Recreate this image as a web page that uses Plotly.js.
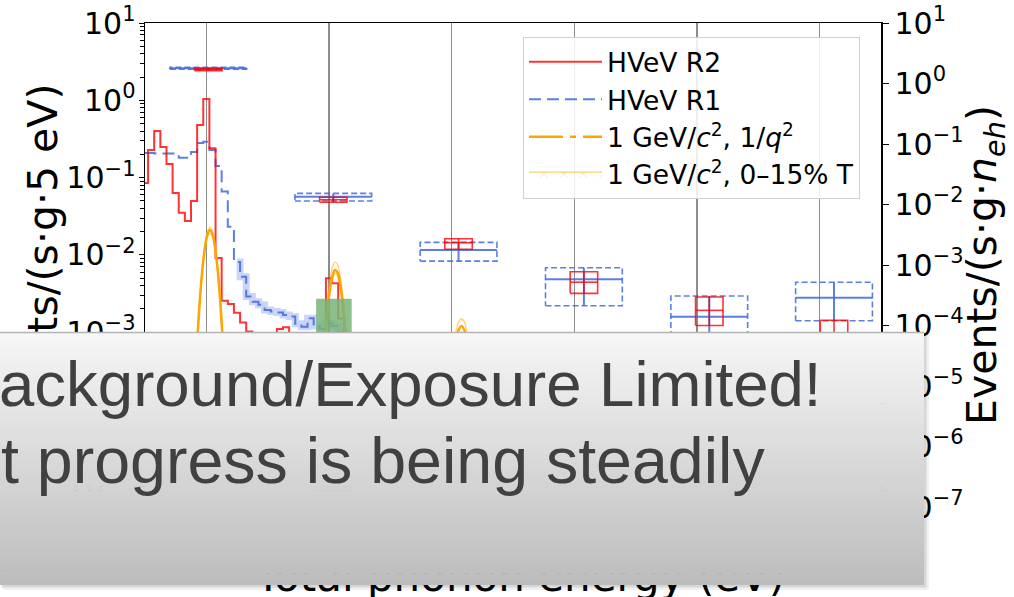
<!DOCTYPE html>
<html><head><meta charset="utf-8">
<script src="https://cdn.plot.ly/plotly-3.0.1.min.js"></script>
<style>html,body{margin:0;padding:0;background:#fff;}#chart{width:1014px;height:597px;}</style>
</head><body><div id="chart"></div>
<script>
// ---------------- data ----------------
const binCenters = [50,55,60,65,70,75,80,85,90,95,100,105,110,115,120,125,130,135,140,145,150,155,160,165,170,175,180,185,190,195,200,205,210,215];
const r2Rate = [0.085,0.227,0.40,0.249,0.15,0.063,0.035,0.0275,0.050,0.48,1.04,0.24,0.0091,0.00255,0.00232,0.00178,0.00134,0.00102,0.00085,0.0009,0.0007,0.00095,0.0011,0.00116,0.0008,0.0006,0.0005,0.0004,0.0005,0.0009,0.0050,0.0043,0.0015,0.0004];
const r1Rate = [0.208,0.208,0.205,0.205,0.205,0.205,0.18,0.18,0.215,0.28,0.29,0.227,0.141,0.066,0.0232,0.0081,0.0052,0.00289,0.00248,0.00226,0.00194,0.00185,0.0018,0.00167,0.0016,0.00129,0.00118,0.00152,0.0012,0.0011,0.0013,0.0012,0.0010,0.0008];

const qX = [91,93,95,97,99,101,103,105,107,109,111,113,115,null,195,197,199,201,203,205,207,209,211,213,215,null,302,304,306,308,310,312,314];
const qY = [0.0004,0.0010,0.0030,0.0070,0.0129,0.0186,0.021,0.0186,0.0129,0.0070,0.0030,0.0010,0.0004,null,0.0003,0.0009,0.0021,0.0038,0.0055,0.0064,0.0059,0.0043,0.0025,0.0012,0.0004,null,0.0005,0.0008,0.0011,0.0012,0.0011,0.0008,0.0005];

const bandX  = [[93,95,97,99,101,103,105,107,109,111,113],[195,197,199,201,203,205,207,209,211,213,215],[302,304,306,308,310,312,314]];
const bandHi = [[0.0012,0.0034,0.0078,0.0142,0.0203,0.023,0.0203,0.0142,0.0078,0.0034,0.0012],[0.0004,0.0012,0.0028,0.0050,0.0071,0.0081,0.0075,0.0055,0.0032,0.0015,0.0005],[0.0007,0.0011,0.0014,0.0015,0.0014,0.0011,0.0007]];
const bandLo = [[0.0009,0.0027,0.0063,0.0117,0.0169,0.019,0.0169,0.0117,0.0063,0.0027,0.0009],[0.00025,0.0008,0.0019,0.0034,0.0049,0.0057,0.0053,0.0038,0.0022,0.0011,0.00035],[0.0004,0.0007,0.0009,0.001,0.0009,0.0007,0.0004]];

const greenX = [189.5, 218.5];
const greenTop = 0.0027;

const nEh  = [1,2,3,4,5,6];
const boxE = [101.6,203.5,305.6,407.8,510,611.7];
const r1Mid = [1.78,0.01346,0.00177,5.8e-4,1.40e-4,2.88e-4];
const r1Lo  = [1.72,0.01143,0.00116,2.12e-4,5.5e-5,1.2e-4];
const r1Hi  = [1.85,0.0153,0.00237,9.0e-4,3.08e-4,5.18e-4];
const r2Mid = [1.70,0.0120,0.00234,5.2e-4,1.78e-4,7e-5];
const r2Lo  = [1.63,0.01087,0.00182,3.4e-4,1.0e-4,3e-5];
const r2Hi  = [1.78,0.01315,0.00272,7.75e-4,2.96e-4,1.22e-4];

const xTickVals = [100,200,300,400,500,600];
const xTickText = ['100','200','300','400','500','600'];
const leftTickVals = [1e-5,1e-4,1e-3,1e-2,1e-1,1,10];
const leftTickText = ['10<sup>−5</sup>','10<sup>−4</sup>','10<sup>−3</sup>','10<sup>−2</sup>','10<sup>−1</sup>','10<sup>0</sup>','10<sup>1</sup>'];
const rightTickVals = [1e-7,1e-6,1e-5,1e-4,1e-3,1e-2,1e-1,1,10];
const rightTickText = ['10<sup>−7</sup>','10<sup>−6</sup>','10<sup>−5</sup>','10<sup>−4</sup>','10<sup>−3</sup>','10<sup>−2</sup>','10<sup>−1</sup>','10<sup>0</sup>','10<sup>1</sup>'];

const xTitle = 'Total phonon energy (eV)';
const yTitleLeft = 'Events/(s·g·5 eV)';
const yTitleRight = 'Events/(s·g·<i>n</i><sub><i>eh</i></sub>)';
const legendNames = ['HVeV R2','HVeV R1','1 GeV/<i>c</i><sup>2</sup>, 1/<i>q</i><sup>2</sup>','1 GeV/<i>c</i><sup>2</sup>, 0–15% T'];
const overlayLines = ['ackground/Exposure Limited!','t progress is being steadily'];

// ---------------- geometry helpers ----------------
const W = 1014, H = 597;
const M = {l:145, r:133, t:23, b:90};
const PW = W - M.l - M.r, PH = H - M.t - M.b;
const fx = px => (px - M.l) / PW;
const fy = py => (M.t + PH - py) / PH;
const yRangeL = [-5.261, 1];
const yRangeR = [-7, 1];
const FONT = 'DejaVu Sans, Liberation Sans, sans-serif';

const BLUE = 'rgba(65,105,225,0.85)';
const RED = 'rgba(255,0,0,0.8)';

// ---------------- build paths ----------------
function rects(c, lo, hi, hw){
  const xs=[], ys=[];
  for(let i=0;i<c.length;i++){
    xs.push(c[i]-hw,c[i]+hw,c[i]+hw,c[i]-hw,c[i]-hw,null);
    ys.push(lo[i],lo[i],hi[i],hi[i],lo[i],null);
  }
  return {xs, ys};
}
function crosses(c, lo, mid, hi, hw){
  const xs=[], ys=[];
  for(let i=0;i<c.length;i++){
    xs.push(c[i]-hw,c[i]+hw,null,c[i],c[i],null);
    ys.push(mid[i],mid[i],null,lo[i],hi[i],null);
  }
  return {xs, ys};
}
const bandPX=[], bandPY=[];
for(let k=0;k<bandX.length;k++){
  const xs=bandX[k], hi=bandHi[k], lo=bandLo[k];
  for(let i=0;i<xs.length;i++){bandPX.push(xs[i]);bandPY.push(hi[i]);}
  for(let i=xs.length-1;i>=0;i--){bandPX.push(xs[i]);bandPY.push(lo[i]);}
  bandPX.push(xs[0]);bandPY.push(hi[0]);
  bandPX.push(null);bandPY.push(null);
}
const bandStart = binCenters.indexOf(125);

const B1 = rects(boxE, r1Lo, r1Hi, 31.3);
const B1c = crosses(boxE, r1Lo, r1Mid, r1Hi, 31.3);
const B2 = rects(boxE, r2Lo, r2Hi, 11.2);
const B2c = crosses(boxE, r2Lo, r2Mid, r2Hi, 11.2);

const traces = [
  {x: binCenters.slice(bandStart), y: r1Rate.slice(bandStart), mode:'lines', line:{shape:'hvh', color:'rgba(65,105,225,0.28)', width:7}, showlegend:false, hoverinfo:'skip'},
  {x: binCenters, y: r1Rate, mode:'lines', name: legendNames[1], legendrank:2, line:{shape:'hvh', color:BLUE, width:2, dash:'12px,6px'}},
  {x: binCenters, y: r2Rate, mode:'lines', name: legendNames[0], legendrank:1, line:{shape:'hvh', color:RED, width:2}},
  {x: bandPX, y: bandPY, mode:'lines', fill:'toself', name: legendNames[3], legendrank:4,
   fillcolor:'rgba(255,165,0,0.18)', fillpattern:{shape:'x', fgcolor:'rgba(255,165,0,0.6)', bgcolor:'rgba(255,255,255,0)', size:14, solidity:0.06},
   line:{color:'rgba(255,165,0,0.55)', width:1.2, shape:'spline'}},
  {x: qX, y: qY, mode:'lines', showlegend:false, line:{color:'orange', width:2.5, shape:'spline'}, connectgaps:false},
  {x: [null], y: [null], mode:'lines', name: legendNames[2], legendrank:3, line:{color:'orange', width:2.5, dash:'34px,7px,6px,7px'}},
  {x: [greenX[0],greenX[1],greenX[1],greenX[0],greenX[0]], y: [1e-7,1e-7,greenTop,greenTop,1e-7], mode:'lines', fill:'toself', fillcolor:'rgba(120,180,120,0.85)', line:{width:0}, showlegend:false, hoverinfo:'skip'},
  {x: B1.xs, y: B1.ys, yaxis:'y2', mode:'lines', line:{color:BLUE, width:1.6, dash:'6px,3px'}, showlegend:false},
  {x: B1c.xs, y: B1c.ys, yaxis:'y2', mode:'lines', line:{color:BLUE, width:2}, showlegend:false},
  {x: B2.xs, y: B2.ys, yaxis:'y2', mode:'lines', line:{color:RED, width:1.6}, showlegend:false},
  {x: B2c.xs, y: B2c.ys, yaxis:'y2', mode:'lines', line:{color:RED, width:1.6}, showlegend:false},
  {x: [null], y: [null], xaxis:'x2', yaxis:'y', mode:'lines', showlegend:false, hoverinfo:'skip'},
  {x: [null], y: [null], xaxis:'x', yaxis:'y3', mode:'lines', showlegend:false, hoverinfo:'skip'}
];

// minor ticks on left axis
const minorVals = [];
for(let e=-6;e<=0;e++){ for(let m=2;m<=9;m++){ const v=m*Math.pow(10,e); if(Math.log10(v)>yRangeL[0]) minorVals.push(v);} }

// ---------------- overlay box (slide callout) ----------------
const shapes = [];
const bx0=0, bx1=924, by0=332, by1=585;
shapes.push({type:'rect', xref:'paper', yref:'paper', x0:fx(bx0+3), x1:fx(bx1+5), y0:fy(by0+3), y1:fy(by1+5), fillcolor:'rgba(0,0,0,0.06)', line:{width:0}, layer:'above'});
shapes.push({type:'rect', xref:'paper', yref:'paper', x0:fx(bx0+1), x1:fx(bx1+2.5), y0:fy(by0+1), y1:fy(by1+2.5), fillcolor:'rgba(0,0,0,0.10)', line:{width:0}, layer:'above'});
const NS = 64;
for(let i=0;i<NS;i++){
  const t=(i+0.5)/NS;
  const c=Math.round(247 - t*(247-188));
  const y0=by0+(by1-by0)*i/NS, y1=Math.min(by1, by0+(by1-by0)*(i+1)/NS+0.7);
  shapes.push({type:'rect', xref:'paper', yref:'paper', x0:fx(bx0-2), x1:fx(bx1), y0:fy(y0), y1:fy(y1), fillcolor:`rgb(${c},${c},${c})`, line:{width:0}, layer:'above'});
}
shapes.push({type:'line', xref:'paper', yref:'paper', x0:fx(bx0-2), x1:fx(bx1), y0:fy(by0+0.5), y1:fy(by0+0.5), line:{color:'#b4b4b4', width:1.5}, layer:'above'});

const annotations = [
  {xref:'paper', yref:'paper', x:fx(-3), y:fy(347), xanchor:'left', yanchor:'top', showarrow:false, text:overlayLines[0], font:{family:'Liberation Sans, Arial, sans-serif', size:63.5, color:'#404040'}},
  {xref:'paper', yref:'paper', x:fx(-1), y:fy(423), xanchor:'left', yanchor:'top', showarrow:false, text:overlayLines[1], font:{family:'Liberation Sans, Arial, sans-serif', size:64.5, color:'#404040'}},
  {xref:'paper', yref:'paper', x:fx(985), y:fy(265), xanchor:'center', yanchor:'middle', textangle:-90, showarrow:false, text:yTitleRight, font:{family:FONT, size:41, color:'#000'}}
];

const axisFont = {family:FONT, size:30, color:'#000'};
const layout = {
  width:W, height:H, margin:M, paper_bgcolor:'#fff', plot_bgcolor:'#fff',
  showlegend:true,
  legend:{x:fx(523), y:fy(37), xanchor:'left', yanchor:'top', bgcolor:'rgba(255,255,255,0.85)', bordercolor:'#d0d0d0', borderwidth:1, font:{family:FONT, size:26.5, color:'#000'}, itemwidth:73, tracegroupgap:0},
  xaxis:{range:[50,650], tickmode:'array', tickvals:xTickVals, ticktext:xTickText, ticks:'outside', ticklen:5, tickcolor:'#000', showline:true, mirror:true, linecolor:'#000', linewidth:1.5, showgrid:true, gridcolor:'#8c8c8c', gridwidth:1.5, zeroline:false, tickfont:axisFont},
  xaxis2:{overlaying:'x', side:'bottom', anchor:'y', range:[50,650], tickmode:'array', tickvals:[356], ticktext:[xTitle], ticks:'', showline:false, showgrid:false, zeroline:false, tickfont:{family:FONT, size:42, color:'#000'}, ticklabelstandoff:41},
  yaxis:{type:'log', range:yRangeL, tickmode:'array', tickvals:leftTickVals, ticktext:leftTickText, ticks:'outside', ticklen:5, tickcolor:'#000', showline:true, linecolor:'#000', linewidth:1.5, showgrid:false, zeroline:false, tickfont:axisFont, ticklabelstandoff:-3,
         minor:{tickmode:'array', tickvals:minorVals, ticks:'outside', ticklen:3.5, tickcolor:'#000', tickwidth:1, showgrid:false}},
  yaxis2:{type:'log', range:yRangeR, overlaying:'y', side:'right', anchor:'x', tickmode:'array', tickvals:rightTickVals, ticktext:rightTickText, ticks:'outside', ticklen:6, tickcolor:'#000', showline:true, linecolor:'#000', linewidth:1.5, showgrid:false, zeroline:false, tickfont:axisFont},
  yaxis3:{type:'log', range:yRangeL, overlaying:'y', side:'left', anchor:'free', position:0, tickmode:'array', tickvals:[Math.pow(10,(yRangeL[0]+yRangeL[1])/2)], ticktext:[yTitleLeft], tickangle:-90, ticks:'', showline:false, showgrid:false, zeroline:false, tickfont:{family:FONT, size:41, color:'#000'}, ticklabelstandoff:80},
  shapes, annotations
};

Plotly.newPlot('chart', traces, layout, {staticPlot:true, displayModeBar:false});
</script>
</body></html>
